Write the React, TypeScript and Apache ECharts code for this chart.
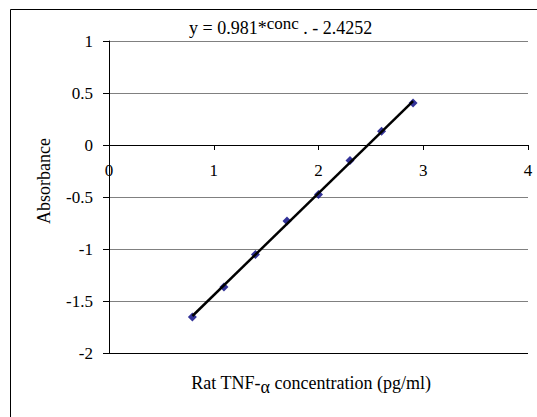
import React, { useEffect, useRef } from "react";
import * as echarts from "echarts";

// log10 concentration (pg/ml)
const logConc = [0.796, 1.097, 1.398, 1.699, 2.0, 2.301, 2.602, 2.903];
const absorbance = [-1.654, -1.365, -1.054, -0.731, -0.477, -0.15, 0.132, 0.404];
const slope = 0.981;
const intercept = -2.4252;
const yTicks = [-2, -1.5, -1, -0.5, 0, 0.5, 1];
const xTicks = [0, 1, 2, 3, 4];

const FONT = "Liberation Serif";
const GRID_TOP = 41;
const GRID_BOTTOM = 64;
const HEIGHT = 417;

export default function App() {
  const ref = useRef<HTMLDivElement>(null);
  useEffect(() => {
    if (!ref.current) return;
    const chart = echarts.init(ref.current, undefined, { renderer: "svg" });
    const trendX = [logConc[0], logConc[logConc.length - 1]];
    const trend = trendX.map((x) => [x, +(slope * x + intercept).toFixed(4)]);
    const yMin = yTicks[0];
    const yMax = yTicks[yTicks.length - 1];
    const plotH = HEIGHT - GRID_TOP - GRID_BOTTOM;
    const zeroOffset = -plotH * ((0 - yMin) / (yMax - yMin));
    chart.setOption({
      animation: false,
      backgroundColor: "#ffffff",
      textStyle: { fontFamily: FONT },
      grid: { left: 109, right: 9, top: GRID_TOP, bottom: GRID_BOTTOM, containLabel: false },
      xAxis: {
        type: "value",
        position: "bottom",
        offset: zeroOffset,
        min: xTicks[0],
        max: xTicks[xTicks.length - 1],
        interval: 1,
        axisLine: { onZero: false, lineStyle: { color: "#000", width: 1 } },
        axisTick: { show: true, length: 5, lineStyle: { color: "#000" } },
        axisLabel: { color: "#000", fontSize: 17, fontFamily: FONT, margin: 17 },
        splitLine: { show: false },
      },
      yAxis: {
        type: "value",
        min: yMin,
        max: yMax,
        interval: 0.5,
        axisLine: { show: true, onZero: false, lineStyle: { color: "#000", width: 1 } },
        axisTick: { show: true, length: 6, lineStyle: { color: "#000" } },
        axisLabel: { color: "#000", fontSize: 17, fontFamily: FONT, margin: 16 },
        splitLine: { show: true, lineStyle: { color: "#808080", width: 1 } },
      },
      series: [
        {
          type: "scatter",
          data: logConc.map((x, i) => [x, absorbance[i]]),
          symbol: "diamond",
          symbolSize: 9,
          itemStyle: { color: "#000080" },
          z: 2,
          markLine: {
            silent: true,
            symbol: "none",
            label: { show: false },
            lineStyle: { color: "#000", width: 1, type: "solid" },
            data: [{ yAxis: yMin }],
          },
        },
        {
          type: "line",
          data: trend,
          symbol: "none",
          lineStyle: { color: "#000", width: 2.5 },
          z: 3,
        },
      ],
      graphic: [
        {
          type: "rect",
          shape: { x: 10.5, y: 9.5, width: 700, height: 600 },
          style: { fill: "none", stroke: "#000", lineWidth: 1 },
          silent: true,
        },
        {
          type: "text",
          x: 189,
          y: 37,
          style: {
            text: "{a|y = 0.981*}{b|conc}{a| . - 2.4252}",
            textAlign: "left",
            textVerticalAlign: "bottom",
            rich: {
              a: { fontFamily: FONT, fontSize: 18, lineHeight: 21, fill: "#000", verticalAlign: "bottom" },
              b: { fontFamily: FONT, fontSize: 17, lineHeight: 21, fill: "#000", verticalAlign: "bottom", padding: [0, 0, 5, 0] },
            },
          },
        },
        {
          type: "text",
          x: 311,
          y: 384,
          style: {
            text: "{a|Rat TNF-}{g|α}{a| concentration (pg/ml)}",
            textAlign: "center",
            textVerticalAlign: "middle",
            rich: {
              a: { fontFamily: FONT, fontSize: 18, lineHeight: 21, fill: "#000", verticalAlign: "top" },
              g: { fontFamily: FONT, fontSize: 18, lineHeight: 21, fill: "#000", verticalAlign: "top", padding: [4, 0, 0, 0] },
            },
          },
        },
        {
          type: "text",
          x: 44,
          y: 181,
          rotation: Math.PI / 2,
          style: {
            text: "Absorbance",
            fontFamily: FONT,
            fontSize: 18,
            fill: "#000",
            textAlign: "center",
            textVerticalAlign: "middle",
          },
        },
      ],
    });
    return () => chart.dispose();
  }, []);
  return (
    <div
      ref={ref}
      style={{ position: "fixed", left: 0, top: 0, width: 537, height: 417 }}
    />
  );
}
